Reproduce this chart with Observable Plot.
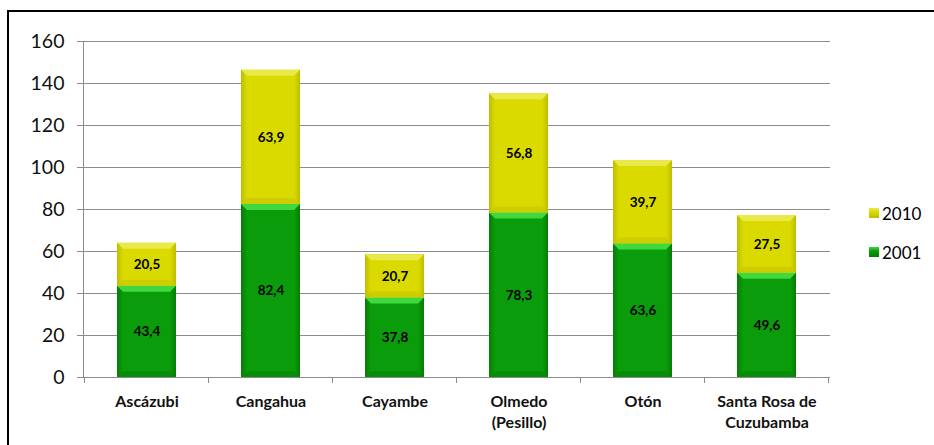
<!DOCTYPE html>
<html><head><meta charset="utf-8">
<script src="https://cdn.jsdelivr.net/npm/d3@7"></script>
<script src="https://cdn.jsdelivr.net/npm/@observablehq/plot@0.6"></script>
<style>
body{margin:0;background:#fff;font-family:Lato,"Liberation Sans",sans-serif;overflow:hidden;}
#frame{position:absolute;left:7px;top:10px;width:960px;height:460px;border-left:2px solid #000;border-top:2px solid #000;pointer-events:none;}
#chart{position:absolute;left:0;top:0;}
#legend{position:absolute;left:869px;top:202px;font-size:17px;color:#000;}
#legend .row{display:flex;align-items:center;height:22px;margin-bottom:17px;}
#legend .sw{width:10px;height:10px;margin-right:3px;}
</style></head><body>
<div id="chart"></div>
<div id="frame"></div>
<div id="legend"></div>
<script>
const categories = ["Ascázubi", "Cangahua", "Cayambe", "Olmedo (Pesillo)", "Otón", "Santa Rosa de Cuzubamba"];
const categoryLabels = ["Ascázubi", "Cangahua", "Cayambe", "Olmedo\n(Pesillo)", "Otón", "Santa Rosa de\nCuzubamba"];
const seriesNames = ["2001", "2010"];
const values2001 = [43.4, 82.4, 37.8, 78.3, 63.6, 49.6];
const values2010 = [20.5, 63.9, 20.7, 56.8, 39.7, 27.5];
const yTicks = [0, 20, 40, 60, 80, 100, 120, 140, 160];
const legendOrder = ["2010", "2001"];

const rows = [
  ...categories.map((c, i) => ({category: c, series: "2001", value: values2001[i]})),
  ...categories.map((c, i) => ({category: c, series: "2010", value: values2010[i]}))
];
const fmt = v => v.toFixed(1).replace(".", ",");
const labelOf = new Map(categories.map((c, i) => [c, categoryLabels[i]]));
const gridColor = "#8c8c8c";

const boundaryTicks = (index, scales, values, dimensions) => {
  const x = scales.x;
  const step = x(categories[1]) - x(categories[0]);
  const half = (step - x.bandwidth()) / 2;
  const y0 = scales.y(0);
  const g = d3.create("svg:g");
  const xs = categories.map(c => x(c) - half);
  xs.push(x(categories[categories.length - 1]) + x.bandwidth() + half);
  for (const px of xs) {
    g.append("line").attr("x1", px).attr("x2", px).attr("y1", y0).attr("y2", y0 + 6)
      .attr("stroke", gridColor).attr("stroke-width", 1);
  }
  return g.node();
};

const plot = Plot.plot({
  width: 934,
  height: 445,
  marginTop: 41,
  marginBottom: 68,
  marginLeft: 83,
  marginRight: 104,
  style: {fontFamily: "Lato, 'Liberation Sans', sans-serif", background: "transparent"},
  x: {domain: categories, paddingInner: 0.525, paddingOuter: 0.2625, label: null},
  y: {domain: [0, 160], label: null},
  color: {domain: seriesNames, range: ["url(#g2001)", "url(#g2010)"]},
  marks: [
    Plot.gridY(yTicks, {stroke: gridColor, strokeOpacity: 1, strokeWidth: 1}),
    Plot.axisY(yTicks, {tickSize: 6, tickPadding: 13, fontSize: 19.5, stroke: gridColor, fill: "#111", tickFormat: d => String(d)}),
    Plot.frame({anchor: "left", stroke: gridColor}),
    Plot.ruleY([0], {stroke: gridColor}),
    boundaryTicks,
    Plot.barY(rows, Plot.stackY({x: "category", y: "value", z: "series", fill: "series", className: "bars"})),
    Plot.text(rows, Plot.stackY({x: "category", y: "value", z: "series", text: d => fmt(d.value), fontWeight: "bold", fontSize: 13.5, fill: "#000"})),
    Plot.axisX({tickSize: 0, tickPadding: 14, fontSize: 16, fontWeight: "bold", fill: "#111", lineHeight: 1.35, tickFormat: c => labelOf.get(c)})
  ]
});

// gradients for the bevelled bar look
const svg = d3.select(plot);
const defs = svg.insert("defs", ":first-child");
function grad(id, edge, mid) {
  const g = defs.append("linearGradient").attr("id", id).attr("x1", 0).attr("x2", 1).attr("y1", 0).attr("y2", 0);
  g.append("stop").attr("offset", 0).attr("stop-color", edge);
  g.append("stop").attr("offset", 0.1).attr("stop-color", mid);
  g.append("stop").attr("offset", 0.9).attr("stop-color", mid);
  g.append("stop").attr("offset", 1).attr("stop-color", edge);
}
grad("g2001", "#067c06", "#0a9c0a");
grad("g2010", "#bdbd00", "#dada00");

// bevel highlights on top of each bar segment
svg.selectAll("g.bars rect").each(function () {
  const r = d3.select(this);
  const x = +r.attr("x"), y = +r.attr("y"), w = +r.attr("width"), h = +r.attr("height");
  const isGreen = r.attr("fill") === "url(#g2001)";
  const parent = d3.select(this.parentNode);
  const b = 6;
  parent.append("polygon")
    .attr("points", `${x},${y} ${x + w},${y} ${x + w - b},${y + b} ${x + b},${y + b}`)
    .attr("fill", isGreen ? "#3fd93f" : "#e9e94a");
  parent.append("polygon")
    .attr("points", `${x},${y + h} ${x + w},${y + h} ${x + w - b},${y + h - b} ${x + b},${y + h - b}`)
    .attr("fill", isGreen ? "#088a08" : "#c9c900").attr("opacity", 0.8);
});
// keep labels above bars
svg.selectAll("g[aria-label=text]").raise();

document.getElementById("chart").appendChild(plot);

// legend
const legend = d3.select("#legend");
for (const s of legendOrder) {
  const row = legend.append("div").attr("class", "row");
  row.append("div").attr("class", "sw")
    .style("background", s === "2001" ? "linear-gradient(#3fd93f,#0a9c0a 40%,#067c06)" : "linear-gradient(#e9e94a,#dada00 40%,#bdbd00)");
  row.append("span").text(s);
}
</script>
</body></html>
